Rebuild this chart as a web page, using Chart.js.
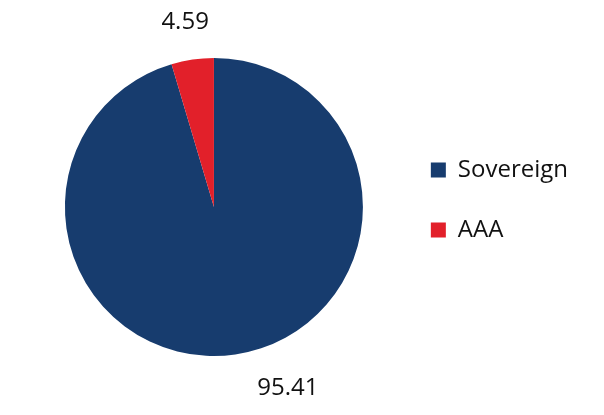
<!DOCTYPE html>
<html>
<head>
<meta charset="utf-8">
<script src="https://cdn.jsdelivr.net/npm/chart.js@4"></script>
<style>
  html, body { margin: 0; padding: 0; background: #fff; }
  #wrap { width: 604px; height: 415px; }
</style>
</head>
<body>
<div id="wrap"><canvas id="pieChart" width="604" height="415"></canvas></div>
<script>
const categories = ["Sovereign", "AAA"];
const shares = [95.41, 4.59];
const sliceColors = ["#173c6e", "#e2202a"];

// draws the value next to each slice, outside the pie
const outsideLabels = {
  id: "outsideLabels",
  afterDatasetsDraw(chart, args, opts) {
    const ctx = chart.ctx;
    const meta = chart.getDatasetMeta(0);
    ctx.save();
    ctx.font = opts.font;
    ctx.fillStyle = opts.color;
    ctx.textAlign = "center";
    ctx.textBaseline = "middle";
    meta.data.forEach((arc, i) => {
      const { x, y, startAngle, endAngle, outerRadius } = arc.getProps(["x", "y", "startAngle", "endAngle", "outerRadius"], true);
      const mid = (startAngle + endAngle) / 2 + (opts.shift[i] || 0) * Math.PI / 180;
      const r = outerRadius + opts.offset[i];
      ctx.fillText(shares[i].toFixed(2), x + Math.cos(mid) * r, y + Math.sin(mid) * r);
    });
    ctx.restore();
  }
};

// nudge the legend block a little up so it sits like the original
const legendNudge = {
  id: "legendNudge",
  afterLayout(chart, args, opts) {
    const lg = chart.legend;
    lg.top += opts.dy;
    lg.bottom += opts.dy;
  }
};

new Chart(document.getElementById("pieChart").getContext("2d"), {
  type: "pie",
  data: {
    labels: categories,
    datasets: [{
      data: shares,
      backgroundColor: sliceColors,
      borderWidth: 0,
    }],
  },
  options: {
    responsive: false,
    animation: false,
    layout: {
      padding: { left: 33, right: 26, top: 58, bottom: 59 }
    },
    plugins: {
      legend: {
        position: "right",
        labels: {
          boxWidth: 15,
          boxHeight: 15,
          padding: 36,
          color: "#111",
          font: { family: "'Open Sans'", size: 24 },
        },
      },
      tooltip: { enabled: false },
      legendNudge: { dy: -7 },
      outsideLabels: {
        font: "24px 'Open Sans'",
        color: "#111",
        shift: [-13.9, -0.6],
        offset: [47, 38],
      },
    },
  },
  plugins: [outsideLabels, legendNudge],
});
</script>
</body>
</html>
